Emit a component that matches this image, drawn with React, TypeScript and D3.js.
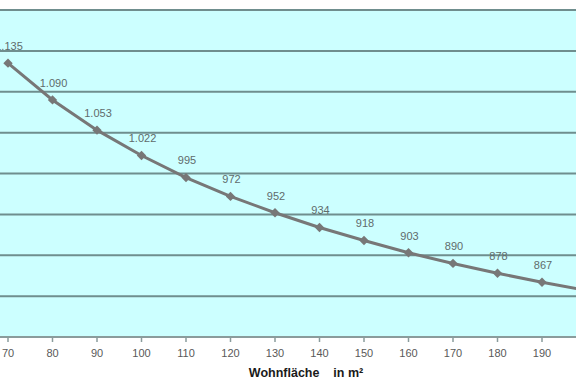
import React from "react";
import * as d3 from "d3";

const categories = [70, 80, 90, 100, 110, 120, 130, 140, 150, 160, 170, 180, 190, 200];
const values = [1135, 1090, 1053, 1022, 995, 972, 952, 934, 918, 903, 890, 878, 867, 857];
const yTicks = [800, 850, 900, 950, 1000, 1050, 1100, 1150, 1200];
const xTitle = "Wohnfläche    in m²";

const W = 576;
const H = 392;

export default function App() {
  const x = d3.scaleLinear().domain([70, 190]).range([8, 542]);
  const y = d3.scaleLinear().domain([800, 1200]).range([337, 10]);
  const fmt = (v: number) => d3.format(",")(v).replace(/,/g, ".");
  const line = d3
    .line<number>()
    .x((_, i) => x(categories[i]))
    .y((d) => y(d));
  const diamond = d3.symbol().type(d3.symbolSquare).size(44)();
  const font = "'Liberation Sans', Arial, sans-serif";
  const visible = (c: number) => x(c) < W;

  return (
    <svg
      width={W}
      height={H}
      style={{ position: "absolute", left: 0, top: 0, background: "#ffffff" }}
    >
      <rect x={-20} y={y(1200)} width={W + 40} height={y(800) - y(1200)} fill="#CCFFFF" />
      {yTicks.map((t) => (
        <line
          key={t}
          x1={-20}
          x2={W + 20}
          y1={y(t)}
          y2={y(t)}
          stroke={t === 800 ? "#8A9C9C" : "#6F8E8E"}
          strokeWidth={2}
        />
      ))}
      {categories.filter(visible).map((c) => (
        <g key={c}>
          <line x1={x(c)} x2={x(c)} y1={y(800)} y2={y(800) + 5} stroke="#8A9C9C" strokeWidth={1.5} />
          <text
            x={x(c)}
            y={353}
            dy="0.35em"
            textAnchor="middle"
            fontFamily={font}
            fontSize={11}
            fill="#595959"
          >
            {c}
          </text>
        </g>
      ))}
      <path d={line(values) || ""} fill="none" stroke="#777777" strokeWidth={3} />
      {values.map((v, i) => (
        <g key={i}>
          <path
            d={diamond || ""}
            transform={`translate(${x(categories[i])},${y(v)}) rotate(45)`}
            fill="#777777"
          />
          {visible(categories[i]) && (
            <text
              x={x(categories[i]) + 1}
              y={y(v) - 17}
              dy="0.35em"
              textAnchor="middle"
              fontFamily={font}
              fontSize={11}
              fill="#5F6B6B"
            >
              {fmt(v)}
            </text>
          )}
        </g>
      ))}
      <text
        x={306}
        y={373}
        dy="0.35em"
        textAnchor="middle"
        fontFamily={font}
        fontSize={12.5}
        fontWeight="bold"
        fill="#1a1a1a"
        style={{ whiteSpace: "pre" }}
      >
        {xTitle}
      </text>
    </svg>
  );
}
